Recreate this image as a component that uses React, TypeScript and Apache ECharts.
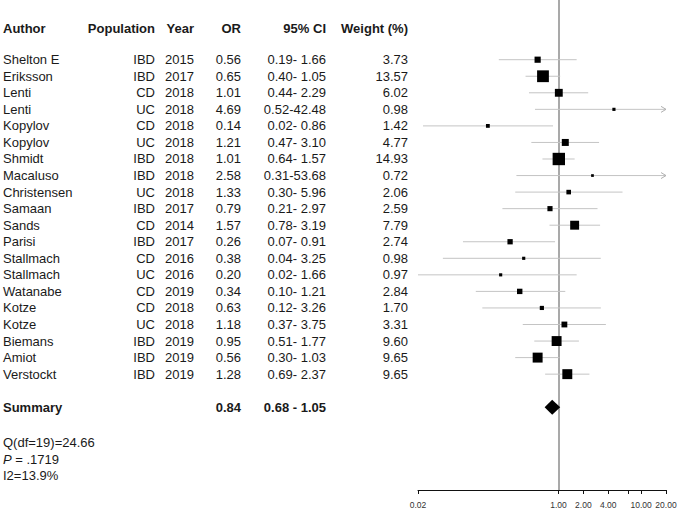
import React, { useEffect, useRef } from "react";
import * as echarts from "echarts";

const authors = ["Shelton E", "Eriksson", "Lenti", "Lenti", "Kopylov", "Kopylov", "Shmidt", "Macaluso", "Christensen", "Samaan", "Sands", "Parisi", "Stallmach", "Stallmach", "Watanabe", "Kotze", "Kotze", "Biemans", "Amiot", "Verstockt"];
const populations = ["IBD", "IBD", "CD", "UC", "CD", "UC", "IBD", "IBD", "UC", "IBD", "CD", "IBD", "CD", "UC", "CD", "CD", "UC", "IBD", "IBD", "IBD"];
const years = [2015, 2017, 2018, 2018, 2018, 2018, 2018, 2018, 2018, 2017, 2014, 2017, 2016, 2016, 2019, 2018, 2018, 2019, 2019, 2019];
const ors = [0.56, 0.65, 1.01, 4.69, 0.14, 1.21, 1.01, 2.58, 1.33, 0.79, 1.57, 0.26, 0.38, 0.2, 0.34, 0.63, 1.18, 0.95, 0.56, 1.28];
const ciLow = [0.19, 0.4, 0.44, 0.52, 0.023, 0.47, 0.64, 0.31, 0.3, 0.21, 0.78, 0.07, 0.04, 0.02, 0.1, 0.12, 0.37, 0.51, 0.3, 0.69];
const ciHigh = [1.66, 1.05, 2.29, 42.48, 0.86, 3.1, 1.57, 53.68, 5.96, 2.97, 3.19, 0.91, 3.25, 1.66, 1.21, 3.26, 3.75, 1.77, 1.03, 2.37];
const weights = [3.73, 13.57, 6.02, 0.98, 1.42, 4.77, 14.93, 0.72, 2.06, 2.59, 7.79, 2.74, 0.98, 0.97, 2.84, 1.7, 3.31, 9.6, 9.65, 9.65];

const headers = ["Author", "Population", "Year", "OR", "95% CI", "Weight (%)"];
const summaryLabel = "Summary";
const summaryOR = 0.84;
const summaryLow = 0.68;
const summaryHigh = 1.05;
const statsLines = ["Q(df=19)=24.66", "{i|P} = .1719", "I2=13.9%"];

const tickValues = [0.02, 1, 2, 4, 7, 10, 20];
const labelValues = [0.02, 1, 2, 4, 10, 20];
const axisMin = 0.02;
const axisMax = 20;

const FONT = '"Liberation Sans", Arial, Helvetica, sans-serif';

// layout (pixels / row units)
const colX = { author: 3, pop: 155, year: 194, or: 241, ci: 326, weight: 408 };
const headerRow = -1.9;
const summaryRow = 21;
const statsRows = [23.1, 24.15, 25.1];

type Cell = { x: number; row: number; text: string; align: string; bold?: boolean; rich?: boolean };

function fmtCI(lo: number, hi: number) {
  const h = hi.toFixed(2);
  return lo.toFixed(2) + "-" + (h.length < 5 ? " " + h : h);
}

function buildCells(): Cell[] {
  const cells: Cell[] = [];
  const hx = [colX.author, colX.pop, colX.year, colX.or, colX.ci, colX.weight];
  headers.forEach((h, i) => cells.push({ x: hx[i], row: headerRow, text: h, align: i === 0 ? "left" : "right", bold: true }));
  authors.forEach((a, i) => {
    cells.push({ x: colX.author, row: i, text: a, align: "left" });
    cells.push({ x: colX.pop, row: i, text: populations[i], align: "right" });
    cells.push({ x: colX.year, row: i, text: String(years[i]), align: "right" });
    cells.push({ x: colX.or, row: i, text: ors[i].toFixed(2), align: "right" });
    cells.push({ x: colX.ci, row: i, text: fmtCI(ciLow[i], ciHigh[i]), align: "right" });
    cells.push({ x: colX.weight, row: i, text: weights[i].toFixed(2), align: "right" });
  });
  cells.push({ x: colX.author, row: summaryRow, text: summaryLabel, align: "left", bold: true });
  cells.push({ x: colX.or, row: summaryRow, text: summaryOR.toFixed(2), align: "right", bold: true });
  cells.push({ x: colX.ci, row: summaryRow, text: summaryLow.toFixed(2) + " - " + summaryHigh.toFixed(2), align: "right", bold: true });
  statsLines.forEach((s, i) => cells.push({ x: colX.author, row: statsRows[i], text: s, align: "left", rich: true }));
  return cells;
}

export default function App() {
  const ref = useRef<HTMLDivElement>(null);
  useEffect(() => {
    if (!ref.current) return;
    const chart = echarts.init(ref.current, null, { renderer: "svg" });
    const cells = buildCells();
    const xMin = Math.log(axisMin);
    const xMax = Math.log(axisMax);
    const yMin = -3.607;
    const yMax = 26.0;

    const option: any = {
      animation: false,
      grid: [
        { left: 418, right: 14, top: 0, bottom: 21 },
        { left: 0, right: 0, top: 0, bottom: 21 },
      ],
      xAxis: [
        {
          type: "value",
          gridIndex: 0,
          position: "bottom",
          min: xMin,
          max: xMax,
          splitLine: { show: false },
          axisLine: { show: true, onZero: false, lineStyle: { color: "#111", width: 1 } },
          axisTick: { show: true, customValues: tickValues.map((v) => Math.log(v)), length: 4, lineStyle: { color: "#111" } },
          axisLabel: {
            show: true,
            customValues: labelValues.map((v) => Math.log(v)),
            formatter: (v: number) => Math.exp(v).toFixed(2),
            fontSize: 8.5,
            fontFamily: FONT,
            color: "#333",
            margin: 10,
          },
        },
        { type: "value", gridIndex: 1, min: 0, max: 680, show: false },
      ],
      yAxis: [
        { type: "value", gridIndex: 0, min: yMin, max: yMax, inverse: true, show: false },
        { type: "value", gridIndex: 1, min: yMin, max: yMax, inverse: true, show: false },
      ],
      series: [
        {
          type: "custom",
          xAxisIndex: 1,
          yAxisIndex: 1,
          silent: true,
          data: cells.map((c, i) => [c.x, c.row, i]),
          renderItem: (params: any, api: any) => {
            const c = cells[api.value(2)];
            const p = api.coord([api.value(0), api.value(1)]);
            const style: any = {
              text: c.text,
              fill: "#1a1a1a",
              font: (c.bold ? "bold " : "") + "13px " + FONT,
              align: c.align,
              verticalAlign: "middle",
            };
            if (c.rich) style.rich = { i: { fontStyle: "italic", fontSize: 13, fontFamily: FONT, fill: "#1a1a1a" } };
            return { type: "text", x: p[0], y: p[1], style };
          },
        },
        {
          type: "custom",
          xAxisIndex: 0,
          yAxisIndex: 0,
          silent: true,
          z: 1,
          data: ors.map((o, i) => [Math.log(ciLow[i]), Math.log(ciHigh[i]), i]),
          renderItem: (params: any, api: any) => {
            const lo = Math.max(api.value(0), xMin);
            const hiRaw = api.value(1);
            const hi = Math.min(hiRaw, xMax);
            const row = api.value(2);
            const a = api.coord([lo, row]);
            const b = api.coord([hi, row]);
            const children: any[] = [
              { type: "line", shape: { x1: a[0], y1: a[1], x2: b[0], y2: b[1] }, style: { stroke: "#c4c4c4", lineWidth: 1 } },
            ];
            if (hiRaw > xMax) {
              children.push({
                type: "polyline",
                shape: { points: [[b[0] - 5, b[1] - 3], [b[0], b[1]], [b[0] - 5, b[1] + 3]] },
                style: { stroke: "#b0b0b0", lineWidth: 1, fill: "none" },
              });
            }
            return { type: "group", children };
          },
          markLine: {
            silent: true,
            symbol: "none",
            z: 1,
            label: { show: false },
            lineStyle: { color: "#8c8c8c", width: 1.5, type: "solid", opacity: 1 },
            data: [{ xAxis: 0 }],
          },
        },
        {
          type: "scatter",
          xAxisIndex: 0,
          yAxisIndex: 0,
          silent: true,
          z: 10,
          symbol: "rect",
          data: ors.map((o, i) => ({ value: [Math.log(o), i], symbolSize: 3.2 * Math.sqrt(weights[i]) })),
          itemStyle: { color: "#000", opacity: 1 },
        },
        {
          type: "custom",
          xAxisIndex: 0,
          yAxisIndex: 0,
          silent: true,
          z: 10,
          data: [[Math.log(summaryLow), Math.log(summaryOR), Math.log(summaryHigh), summaryRow]],
          renderItem: (params: any, api: any) => {
            const row = api.value(3);
            const l = api.coord([api.value(0), row]);
            const m = api.coord([api.value(1), row]);
            const r = api.coord([api.value(2), row]);
            const h = 7.5;
            return {
              type: "polygon",
              shape: { points: [[l[0], l[1]], [m[0], m[1] - h], [r[0], r[1]], [m[0], m[1] + h]] },
              style: { fill: "#000" },
            };
          },
        },
      ],
    };
    chart.setOption(option);
    return () => chart.dispose();
  }, []);
  return <div ref={ref} style={{ position: "absolute", left: 0, top: 0, width: 680, height: 511, background: "#fff" }} />;
}
